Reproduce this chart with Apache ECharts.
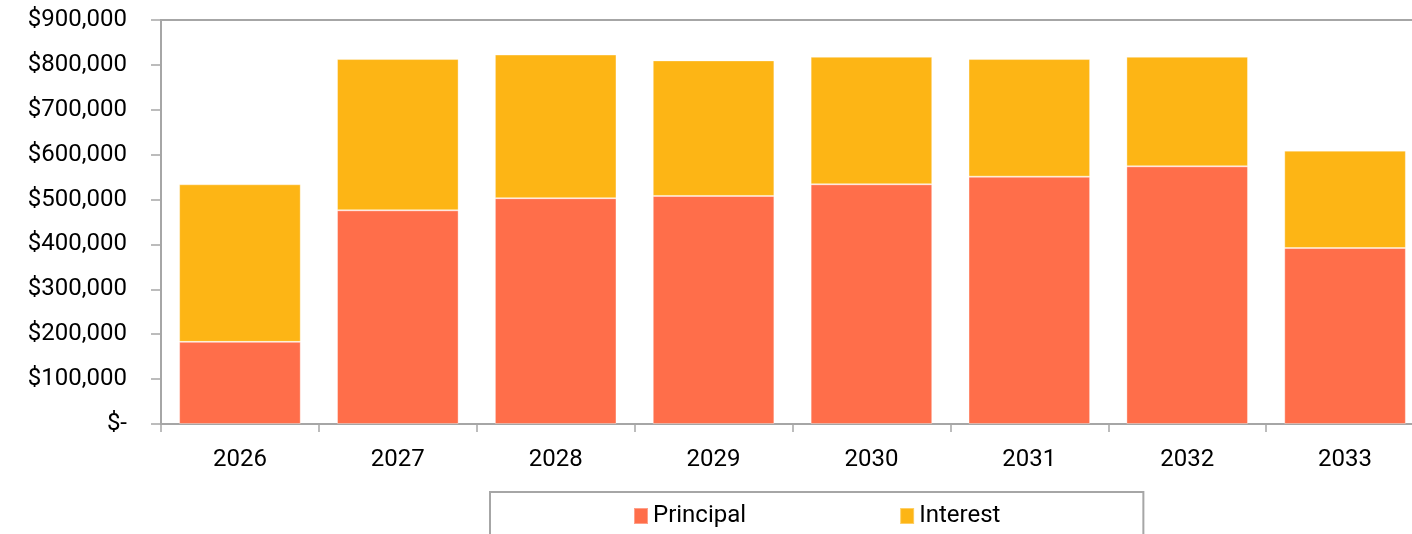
<!DOCTYPE html>
<html>
<head>
<meta charset="utf-8">
<script src="https://cdn.jsdelivr.net/npm/echarts@6/dist/echarts.min.js"></script>
<style>
  html, body { margin: 0; padding: 0; background: #fff; }
  #chart { width: 1412px; height: 534px; }
</style>
</head>
<body>
<div id="chart"></div>
<script>
const years = ['2026', '2027', '2028', '2029', '2030', '2031', '2032', '2033']
const principal = [183000, 476000, 503000, 508000, 534000, 551000, 574000, 392000]
const interest = [351000, 337000, 320000, 302000, 284000, 262000, 244000, 217000]

const chart = echarts.init(document.getElementById('chart'))

const axisGray = '#A6A6A6'
const font = 'Roboto'

const options = {
  animation: false,
  textStyle: { fontFamily: font, color: '#000' },
  grid: {
    left: 161,
    right: -12,
    top: 20,
    bottom: 110,
    outerBoundsMode: 'none',
    containLabel: false,
    show: true,
    borderColor: axisGray,
    borderWidth: 2
  },
  legend: {
    left: 490,
    top: 492,
    padding: [12, 143, 20, 143],
    borderColor: axisGray,
    borderWidth: 2,
    itemGap: 153,
    itemWidth: 14,
    itemHeight: 16,
    icon: 'rect',
    textStyle: { fontFamily: font, fontSize: 24, color: '#000' },
    data: ['Principal', 'Interest']
  },
  xAxis: {
    type: 'category',
    data: years,
    axisLine: { lineStyle: { color: axisGray, width: 2 } },
    axisTick: { show: true, length: 8, lineStyle: { color: axisGray, width: 1.5 } },
    axisLabel: { fontFamily: font, fontSize: 24, color: '#000', margin: 24 }
  },
  yAxis: {
    type: 'value',
    min: 0,
    max: 900000,
    interval: 100000,
    axisLine: { show: true, lineStyle: { color: axisGray, width: 2 } },
    axisTick: { show: true, length: 10, lineStyle: { color: axisGray, width: 1.5 } },
    splitLine: { show: false },
    axisLabel: {
      fontFamily: font,
      fontSize: 24,
      color: '#000',
      margin: 34,
      formatter: v => v === 0 ? '$-' : '$' + v.toLocaleString('en-US')
    }
  },
  series: [
    {
      name: 'Principal',
      type: 'bar',
      stack: 'total',
      barCategoryGap: '23%',
      data: principal,
      itemStyle: { color: '#FF6E4A', borderColor: 'rgba(255,255,255,0.35)', borderWidth: 1 }
    },
    {
      name: 'Interest',
      type: 'bar',
      stack: 'total',
      data: interest,
      itemStyle: { color: '#FDB515', borderColor: 'rgba(255,255,255,0.35)', borderWidth: 1 }
    }
  ]
}

chart.setOption(options)
</script>
</body>
</html>
